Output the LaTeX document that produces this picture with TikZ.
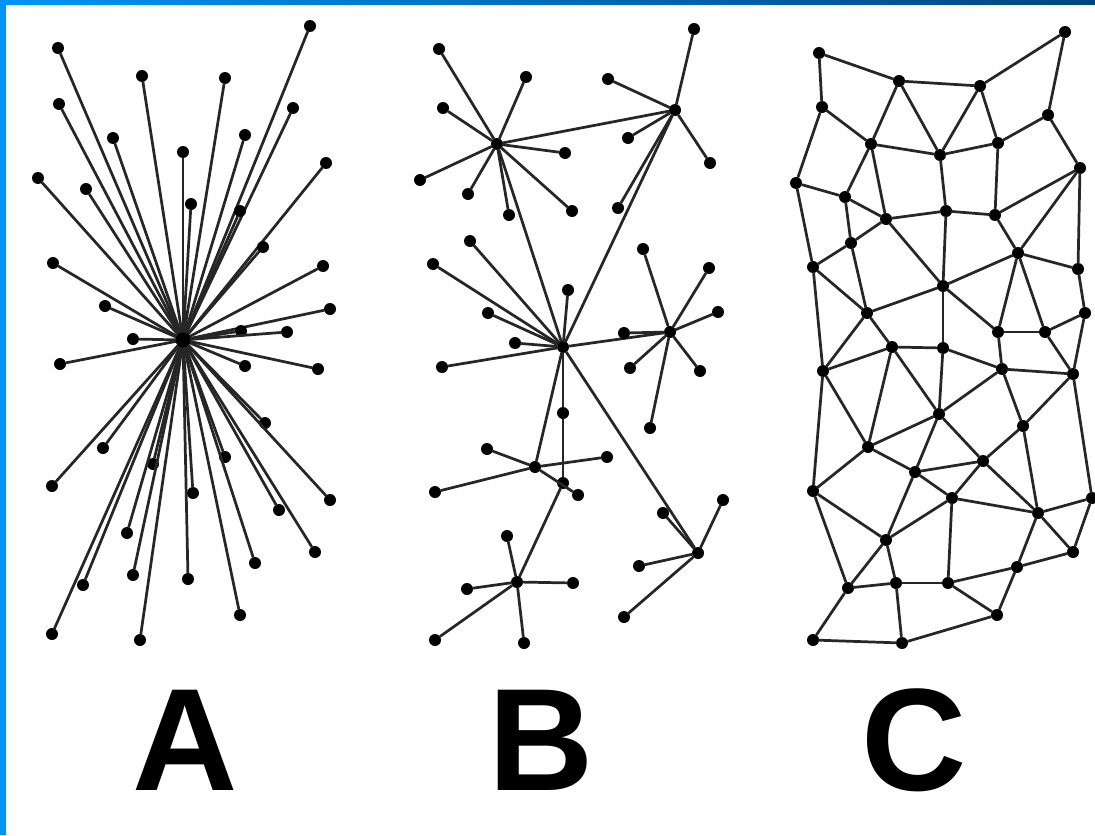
\documentclass[tikz,border=0pt]{standalone}
\usepackage{fontspec}
\setsansfont{Liberation Sans}
\usetikzlibrary{positioning}

\definecolor{frameblue}{RGB}{0,148,245}
\definecolor{framenavy}{RGB}{0,70,128}

\begin{document}
\begin{tikzpicture}[x=0.02cm, y=-0.02cm,
    dot/.style={circle, fill=black, inner sep=0pt, minimum size=0.24cm},
    link/.style={draw=black!85, line width=1.55pt, line cap=round},
    tag/.style={font=\sffamily\bfseries\fontsize{83}{83}\selectfont, inner sep=0pt, anchor=base}]

    % page and frame
    \fill[white] (0,0) rectangle (1095,835);
    \useasboundingbox (0,0) rectangle (1095,835);
    \shade[left color=frameblue, right color=framenavy] (0,0) rectangle (1095,4);
    \fill[frameblue] (0,0) rectangle (6,835);

    % A: centralized
    \coordinate (hubA) at (183,340);
    \foreach \n/\x/\y in {a1/58/48, a2/142/76, a3/225/78, a4/310/26, a5/59/104,
        a6/293/108, a7/113/138, a8/245/135, a9/183/152, a10/38/178, a11/326/163,
        a12/86/189, a13/191/204, a14/240/211, a15/263/247, a16/53/263, a17/323/266,
        a18/105/306, a19/330/309, a20/241/331, a21/287/332, a22/133/339, a23/60/364,
        a24/245/366, a25/318/369, a26/265/423, a27/103/448, a28/225/457, a29/153/464,
        a30/52/486, a31/330/500, a32/193/493, a33/279/510, a34/127/533, a35/315/552,
        a36/255/563, a37/133/575, a38/188/579, a39/83/585, a40/240/615, a41/52/634,
        a42/140/640} {
        \node[dot] (\n) at (\x,\y) {};
        \draw[link] (hubA) -- (\n);
    }
    \node[dot, minimum size=0.3cm] (hubdot) at (hubA) {};

    % B: decentralized
    \foreach \n/\x/\y in {hb0/563/347, hb1/497/144, hb2/675/110, hb3/670/332,
        hb4/535/467, hb5/517/582, hb6/698/553, b32/563/483}
        \node[dot] (\n) at (\x,\y) {};
    \foreach \u/\v in {hb1/hb2, hb1/hb0, hb2/hb0, hb0/hb3, hb0/hb4, hb0/b32,
        b32/hb5, hb0/hb6}
        \draw[link] (\u) -- (\v);
    \foreach \h/\n/\x/\y in {hb1/b1/439/49, hb1/b2/526/77, hb1/b3/443/108,
        hb1/b4/565/153, hb1/b5/420/180, hb1/b6/468/194, hb1/b7/572/211,
        hb1/b8/509/215,
        hb2/b9/694/29, hb2/b10/608/79, hb2/b11/628/138, hb2/b12/710/163,
        hb2/b13/618/208,
        hb0/b14/470/241, hb0/b15/433/264, hb0/b16/568/290, hb0/b17/488/313,
        hb0/b18/515/343, hb0/b19/442/367, hb0/b20/563/413,
        hb3/b21/643/249, hb3/b22/709/268, hb3/b23/718/312, hb3/b24/624/333,
        hb3/b25/630/368, hb3/b26/700/371, hb3/b27/650/428,
        hb4/b28/487/449, hb4/b29/607/457, hb4/b30/435/492, hb4/b31/578/495,
        hb5/b33/507/536, hb5/b34/467/589, hb5/b35/573/583, hb5/b36/435/640,
        hb5/b37/524/643,
        hb6/b38/723/500, hb6/b39/663/513, hb6/b40/639/566, hb6/b41/624/617} {
        \node[dot] (\n) at (\x,\y) {};
        \draw[link] (\h) -- (\n);
    }

    % C: distributed
    \foreach \n/\x/\y in {c1/819/53, c2/899/81, c3/980/86, c4/1065/32, c5/822/107,
        c6/1048/115, c7/871/144, c8/940/155, c9/998/143, c10/796/183, c11/1080/168,
        c12/845/197, c13/886/219, c14/946/211, c15/995/215, c16/851/243,
        c17/1018/253, c18/813/267, c19/1078/269, c20/943/286, c21/867/313,
        c22/1085/313, c23/998/332, c24/1045/332, c25/892/347, c26/943/348,
        c27/823/371, c28/1002/369, c29/1073/374, c30/939/414, c31/1023/426,
        c32/868/447, c33/983/461, c34/915/472, c35/813/491, c36/952/498,
        c37/1092/498, c38/1038/513, c39/886/540, c40/1073/552, c41/1017/567,
        c42/848/588, c43/896/583, c44/948/583, c45/997/615, c46/813/640,
        c47/902/643}
        \node[dot] (\n) at (\x,\y) {};
    \foreach \u/\v in {c1/c2, c2/c3, c3/c4, c1/c5, c4/c6, c5/c10, c5/c7, c2/c7,
        c2/c8, c3/c8, c3/c9, c9/c6, c6/c11, c7/c8, c8/c9, c7/c12, c7/c13, c8/c14,
        c9/c15, c10/c12, c12/c13, c13/c14, c14/c15, c15/c11, c11/c17, c11/c19,
        c15/c17, c12/c16, c13/c16, c10/c18, c16/c18, c13/c20, c14/c20, c17/c20,
        c17/c19, c16/c21, c18/c21, c20/c21, c17/c23, c17/c24, c19/c22, c22/c24,
        c20/c23, c20/c26, c21/c27, c21/c25, c18/c27, c22/c29,
        c25/c26, c27/c25, c25/c32, c25/c30, c26/c30, c26/c28, c23/c28, c23/c24,
        c24/c29, c28/c29, c28/c30, c28/c31, c29/c31, c29/c37, c27/c32, c27/c35,
        c30/c32, c30/c34, c30/c33, c31/c33, c31/c38, c32/c34, c32/c35, c33/c34,
        c33/c36, c33/c38, c34/c36, c34/c39, c35/c39, c35/c42, c36/c39, c36/c38,
        c36/c44, c37/c38, c37/c40, c38/c40, c38/c41, c39/c42, c39/c43, c42/c43,
        c43/c44, c44/c41, c41/c40, c44/c45, c41/c45, c42/c46, c43/c47, c46/c47,
        c47/c45}
        \draw[link] (\u) -- (\v);

    % labels
    \node[tag] (tagA) at (185,790) {A};
    \node[tag] (tagB) at (541,790) {B};
    \node[tag] (tagC) at (914,790) {C};
\end{tikzpicture}
\end{document}
